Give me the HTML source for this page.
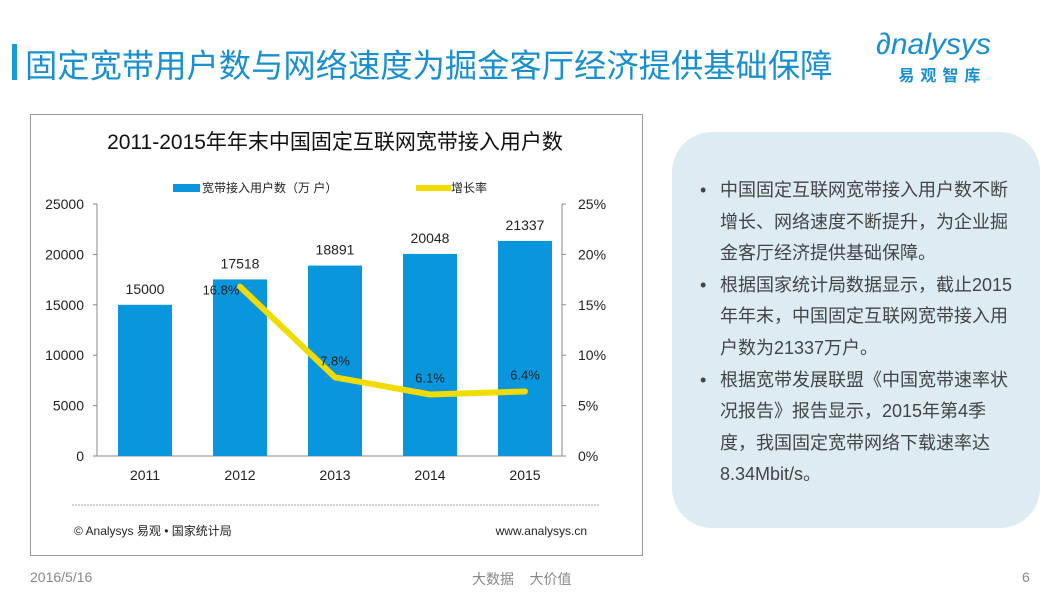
<!DOCTYPE html>
<html><head><meta charset="utf-8"><style>
body{margin:0;width:1061px;height:594px;background:#fff;font-family:"Liberation Sans","Noto Sans CJK SC",sans-serif;position:relative;overflow:hidden}
.abs{position:absolute}
.b{position:relative;padding-left:20px}
.b:before{content:"•";position:absolute;left:0}
</style></head><body>
<div class="abs" style="left:12px;top:44px;width:5px;height:36px;background:#1a9ad6"></div>
<div class="abs" style="left:25px;top:41px;font-size:32.3px;color:#1a8fcf">固定宽带用户数与网络速度为掘金客厅经济提供基础保障</div>
<div class="abs" style="left:876px;top:28px;color:#1a8fcf;text-align:center">
<div style="font-size:30px;font-style:italic;line-height:34px">∂nalysys</div>
<div style="font-size:16px;font-weight:bold;letter-spacing:6px;margin-left:18px">易观智库</div></div>
<div class="abs" style="left:30px;top:114px;width:611px;height:440px;border:1px solid #999"></div>
<div class="abs" style="left:672px;top:132px;width:368px;height:396px;background:#dcecf2;border-radius:40px"></div>
<div class="abs" style="left:700px;top:175px;width:340px;font-size:18px;line-height:31.6px;color:#444;white-space:nowrap">
<div class="b">中国固定互联网宽带接入用户数不断<br>增长、网络速度不断提升，为企业掘<br>金客厅经济提供基础保障。</div>
<div class="b">根据国家统计局数据显示，截止2015<br>年年末，中国固定互联网宽带接入用<br>户数为21337万户。</div>
<div class="b">根据宽带发展联盟《中国宽带速率状<br>况报告》报告显示，2015年第4季<br>度，我国固定宽带网络下载速率达<br>8.34Mbit/s。</div></div>
<div class="abs" style="left:30px;top:569px;font-size:14px;color:#888">2016/5/16</div>
<div class="abs" style="left:472px;top:569px;font-size:14px;color:#888">大数据&nbsp;&nbsp;&nbsp;&nbsp;大价值</div>
<div class="abs" style="left:1022px;top:569px;font-size:14px;color:#888">6</div>
<svg class="abs" style="left:0;top:0" width="1061" height="594" id="chart"></svg>
<script>
const years=["2011","2012","2013","2014","2015"];
const users=[15000,17518,18891,20048,21337];
const growth=[null,16.8,7.8,6.1,6.4];
const growthLabels=["","16.8%","7.8%","6.1%","6.4%"];
const leftTicks=[0,5000,10000,15000,20000,25000];
const rightTicks=["0%","5%","10%","15%","20%","25%"];
const svg=document.getElementById('chart');const NS='http://www.w3.org/2000/svg';
const X0=97,X1=562,Y0=456,Y1=204,STEP=95;
const yL=v=>Y0-(v/25000)*(Y0-Y1);const yR=v=>Y0-(v/25)*(Y0-Y1);const xc=i=>X0+48+i*STEP;
function mk(t,a,txt){const e=document.createElementNS(NS,t);for(const k in a)e.setAttribute(k,a[k]);if(txt!==undefined)e.textContent=txt;svg.appendChild(e);return e;}
const F='Liberation Sans, Noto Sans CJK SC, sans-serif';
let e=mk('text',{x:335,y:149,'text-anchor':'middle','font-size':21,fill:'#111','font-family':F},'2011-2015年年末中国固定互联网宽带接入用户数');

e=mk('rect',{x:173,y:184,width:27,height:8,fill:'#0a96dc'});
e=mk('text',{x:202,y:192,'font-size':12,fill:'#222','font-family':F},'宽带接入用户数（万 户）');
e=mk('line',{x1:416,y1:188,x2:451,y2:188,stroke:'#f2dc00','stroke-width':6});
e=mk('text',{x:451,y:192,'font-size':12,fill:'#222','font-family':F},'增长率');
e=mk('line',{x1:X0,y1:Y1,x2:X0,y2:Y0,stroke:'#888'});
e=mk('line',{x1:X1,y1:Y1,x2:X1,y2:Y0,stroke:'#888'});
e=mk('line',{x1:X0,y1:Y0,x2:X1,y2:Y0,stroke:'#888'});
leftTicks.forEach((t,i)=>{
 e=mk('line',{x1:X0-4,y1:yL(t),x2:X0,y2:yL(t),stroke:'#888'});
 e=mk('text',{x:84,y:yL(t)+5,'text-anchor':'end','font-size':14,fill:'#222','font-family':F},t);
 e=mk('line',{x1:X1,y1:yL(t),x2:X1+4,y2:yL(t),stroke:'#888'});
 e=mk('text',{x:578,y:yL(t)+5,'font-size':14,fill:'#222','font-family':F},rightTicks[i]);
});
years.forEach((y,i)=>{
 e=mk('rect',{x:xc(i)-27,y:yL(users[i]),width:54,height:Y0-yL(users[i]),fill:'#0a96dc'});
 e=mk('text',{x:xc(i),y:yL(users[i])-11,'text-anchor':'middle','font-size':14,fill:'#222','font-family':F},users[i]);
 e=mk('text',{x:xc(i),y:480,'text-anchor':'middle','font-size':14,fill:'#222','font-family':F},y);
});
let pts=[];growth.forEach((g,i)=>{if(g!==null)pts.push(xc(i)+','+yR(g));});
e=mk('polyline',{points:pts.join(' '),fill:'none',stroke:'#f2dc00','stroke-width':6,'stroke-linejoin':'round','stroke-linecap':'round'});
growth.forEach((g,i)=>{if(g===null)return;
 e=mk('text',{x:i===1?xc(i)-19:xc(i),y:yR(g)-(i===1?-8:12),'text-anchor':'middle','font-size':13,fill:'#222','font-family':F},growthLabels[i]);});
e=mk('line',{x1:72,y1:505,x2:600,y2:505,stroke:'#aaa','stroke-dasharray':'2,1'});
e=mk('text',{x:74,y:535,'font-size':12,fill:'#222','font-family':F},'© Analysys 易观 • 国家统计局');
e=mk('text',{x:587,y:535,'text-anchor':'end','font-size':12,fill:'#222','font-family':F},'www.analysys.cn');
</script>
</body></html>
